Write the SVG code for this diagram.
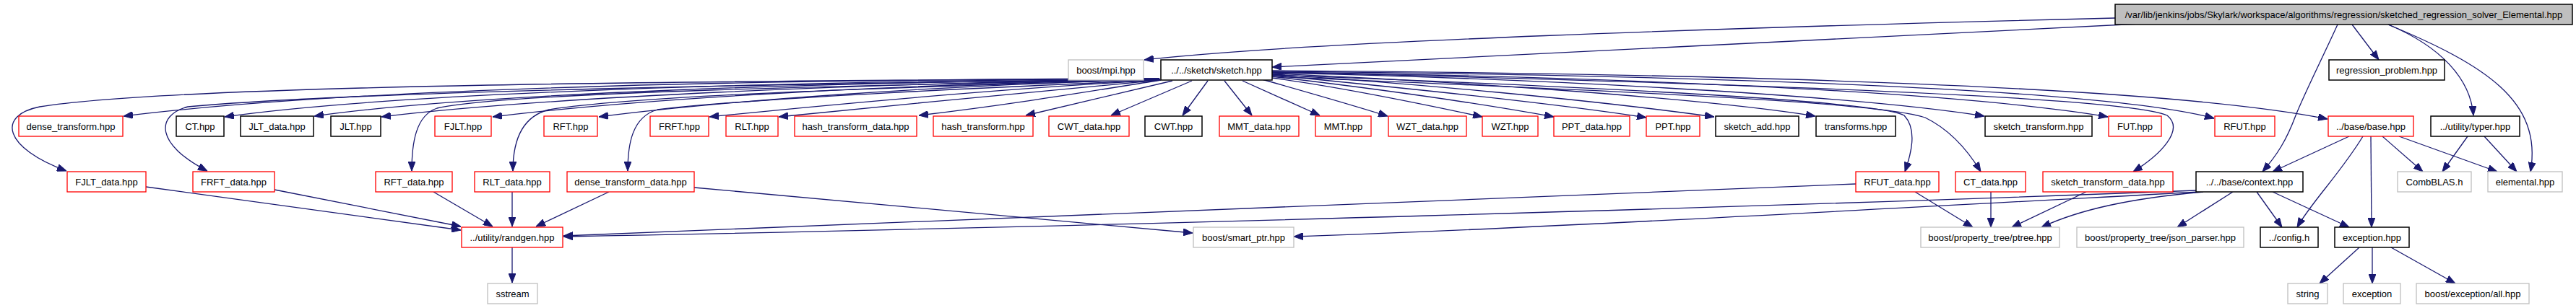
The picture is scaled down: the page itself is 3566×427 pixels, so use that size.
<svg xmlns="http://www.w3.org/2000/svg" width="3566" height="427" viewBox="0 0 3566 427">
<style>
.n rect{fill:#fff;stroke-width:1.3}
.k rect{stroke:#000;stroke-width:1.5}
.r rect{stroke:#f00}
.g rect{stroke:#bfbfbf}
.t rect{fill:#bfbfbf;stroke:#000;stroke-width:1.5}
text{font-family:"Liberation Sans",Arial,Helvetica,sans-serif;font-size:13px;text-anchor:middle;fill:#000}
#edges path{fill:none;stroke:#191970;stroke-width:1.3;marker-end:url(#a)}
</style>
<defs>
<marker id="a" viewBox="0 0 13 10" refX="13" refY="5" markerWidth="13" markerHeight="10" markerUnits="userSpaceOnUse" orient="auto"><path d="M0,0 L13,5 L0,10 z" fill="#191970" stroke="#191970" stroke-width="1"/></marker>
</defs>
<rect x="0" y="0" width="3566" height="427" fill="#fff"/>
<g id="edges">
<path d="M2928,25 C2400,38 1800,58 1584,83"/>
<path d="M2962,33 L1761,93"/>
<path d="M3256,34 L3293,83"/>
<path d="M3236,34 C3215,80 3190,130 3178,160 C3165,195 3152,215 3132,238"/>
<path d="M3306,34 C3380,65 3420,110 3424,160"/>
<path d="M3306,34 C3440,90 3520,140 3503,238"/>
<path d="M1605,109 C1100,110 500,120 171,161"/>
<path d="M1605,109 C1100,112 550,128 311,162"/>
<path d="M1605,110 C1150,113 650,130 435,161"/>
<path d="M1605,110 C1200,115 750,135 528,162"/>
<path d="M1605,110 C1250,117 900,135 682,162"/>
<path d="M1606,110 C1300,118 1000,140 829,162"/>
<path d="M1606,111 C1400,122 1150,145 982,162"/>
<path d="M1606,111 C1450,125 1250,145 1078,162"/>
<path d="M1607,111 C1500,128 1400,145 1272,160"/>
<path d="M1623,112 L1420,160"/>
<path d="M1650,112 L1538,160"/>
<path d="M1672,112 L1637,160"/>
<path d="M1695,112 L1733,160"/>
<path d="M1720,112 L1827,160"/>
<path d="M1747,110 C1800,125 1870,145 1921,161"/>
<path d="M1761,108 C1850,120 1950,140 2052,162"/>
<path d="M1761,106 C1880,120 2030,140 2151,162"/>
<path d="M1761,104 C1900,118 2130,140 2279,163"/>
<path d="M1761,103 C1950,115 2200,138 2373,162"/>
<path d="M1761,102 C2000,112 2350,135 2513,161"/>
<path d="M1761,101 C2100,108 2550,130 2747,161"/>
<path d="M1761,100 C2200,106 2700,125 2918,162"/>
<path d="M1761,99 C2300,104 2900,120 3065,164"/>
<path d="M1761,98 C2400,102 3000,120 3222,165"/>
<path d="M1761,104 C2200,120 2600,140 2636,160 C2655,180 2645,215 2637,238"/>
<path d="M1761,106 C2200,125 2600,140 2665,163 C2700,180 2725,210 2742,238"/>
<path d="M1761,100 C2400,115 2950,135 3000,160 C3025,180 2990,215 2953,238"/>
<path d="M1605,109 C1000,112 250,117 55,148 C-5,160 5,205 92,237"/>
<path d="M1605,110 C1100,116 500,126 260,148 C215,160 215,200 287,237"/>
<path d="M1606,110 C1200,118 700,128 605,150 C575,160 570,200 570,237"/>
<path d="M1606,110 C1300,120 900,130 760,152 C720,162 710,200 710,237"/>
<path d="M1606,111 C1400,120 1050,135 910,152 C875,162 869,200 869,237"/>
<path d="M202,259 L638,319"/>
<path d="M380,263 L638,314"/>
<path d="M600,266 L682,314"/>
<path d="M709,266 L709,314"/>
<path d="M843,266 L742,314"/>
<path d="M961,260 L1651,323"/>
<path d="M709,343 L709,392"/>
<path d="M2569,255 L780,327"/>
<path d="M3040,264 C2500,285 1500,315 780,328"/>
<path d="M3045,266 C2600,290 2100,318 1791,328"/>
<path d="M3050,266 C2950,275 2880,290 2826,315"/>
<path d="M3091,266 L3014,315"/>
<path d="M3124,266 L3159,315"/>
<path d="M3146,266 L3252,315"/>
<path d="M2651,266 L2731,315"/>
<path d="M2756,266 L2756,315"/>
<path d="M2888,266 L2785,315"/>
<path d="M3252,189 L3146,238"/>
<path d="M3271,189 C3240,240 3200,280 3180,315"/>
<path d="M3282,189 L3283,315"/>
<path d="M3298,189 L3354,238"/>
<path d="M3321,189 L3457,238"/>
<path d="M3416,189 L3381,238"/>
<path d="M3439,189 L3484,238"/>
<path d="M3266,343 L3211,393"/>
<path d="M3284,343 L3284,393"/>
<path d="M3310,343 L3399,393"/>
</g>
<g id="n_top" class="n t"><rect x="2928" y="6" width="633" height="28"/><text x="3244.5" y="24.5">/var/lib/jenkins/jobs/Skylark/workspace/algorithms/regression/sketched_regression_solver_Elemental.hpp</text></g>
<g id="n_mpi" class="n g"><rect x="1479" y="83" width="104" height="28"/><text x="1531" y="101.5">boost/mpi.hpp</text></g>
<g id="n_sketch" class="n k"><rect x="1607" y="83" width="154" height="28"/><text x="1684" y="101.5">../../sketch/sketch.hpp</text></g>
<g id="n_regression" class="n k"><rect x="3224" y="83" width="160" height="28"/><text x="3304" y="101.5">regression_problem.hpp</text></g>
<g id="n_dense_transform" class="n r"><rect x="26" y="161" width="144" height="28"/><text x="98" y="179.5">dense_transform.hpp</text></g>
<g id="n_CT" class="n k"><rect x="244" y="161" width="66" height="28"/><text x="277" y="179.5">CT.hpp</text></g>
<g id="n_JLT_data" class="n k"><rect x="333" y="161" width="101" height="28"/><text x="383.5" y="179.5">JLT_data.hpp</text></g>
<g id="n_JLT" class="n k"><rect x="458" y="161" width="69" height="28"/><text x="492.5" y="179.5">JLT.hpp</text></g>
<g id="n_FJLT" class="n r"><rect x="602" y="161" width="78" height="28"/><text x="641" y="179.5">FJLT.hpp</text></g>
<g id="n_RFT" class="n r"><rect x="753" y="161" width="74" height="28"/><text x="790" y="179.5">RFT.hpp</text></g>
<g id="n_FRFT" class="n r"><rect x="900" y="161" width="81" height="28"/><text x="940.5" y="179.5">FRFT.hpp</text></g>
<g id="n_RLT" class="n r"><rect x="1005" y="161" width="72" height="28"/><text x="1041" y="179.5">RLT.hpp</text></g>
<g id="n_hash_transform_data" class="n r"><rect x="1100" y="161" width="169" height="28"/><text x="1184.5" y="179.5">hash_transform_data.hpp</text></g>
<g id="n_hash_transform" class="n r"><rect x="1292" y="161" width="138" height="28"/><text x="1361" y="179.5">hash_transform.hpp</text></g>
<g id="n_CWT_data" class="n r"><rect x="1452" y="161" width="111" height="28"/><text x="1507.5" y="179.5">CWT_data.hpp</text></g>
<g id="n_CWT" class="n k"><rect x="1585" y="161" width="79" height="28"/><text x="1624.5" y="179.5">CWT.hpp</text></g>
<g id="n_MMT_data" class="n r"><rect x="1688" y="161" width="110" height="28"/><text x="1743" y="179.5">MMT_data.hpp</text></g>
<g id="n_MMT" class="n r"><rect x="1821" y="161" width="77" height="28"/><text x="1859.5" y="179.5">MMT.hpp</text></g>
<g id="n_WZT_data" class="n r"><rect x="1922" y="161" width="108" height="28"/><text x="1976" y="179.5">WZT_data.hpp</text></g>
<g id="n_WZT" class="n r"><rect x="2052" y="161" width="77" height="28"/><text x="2090.5" y="179.5">WZT.hpp</text></g>
<g id="n_PPT_data" class="n r"><rect x="2151" y="161" width="105" height="28"/><text x="2203.5" y="179.5">PPT_data.hpp</text></g>
<g id="n_PPT" class="n r"><rect x="2279" y="161" width="74" height="28"/><text x="2316" y="179.5">PPT.hpp</text></g>
<g id="n_sketch_add" class="n k"><rect x="2375" y="161" width="115" height="28"/><text x="2432.5" y="179.5">sketch_add.hpp</text></g>
<g id="n_transforms" class="n k"><rect x="2514" y="161" width="110" height="28"/><text x="2569" y="179.5">transforms.hpp</text></g>
<g id="n_sketch_transform" class="n k"><rect x="2748" y="161" width="148" height="28"/><text x="2822" y="179.5">sketch_transform.hpp</text></g>
<g id="n_FUT" class="n r"><rect x="2919" y="161" width="73" height="28"/><text x="2955.5" y="179.5">FUT.hpp</text></g>
<g id="n_RFUT" class="n r"><rect x="3066" y="161" width="83" height="28"/><text x="3107.5" y="179.5">RFUT.hpp</text></g>
<g id="n_base" class="n r"><rect x="3223" y="161" width="118" height="28"/><text x="3282" y="179.5">../base/base.hpp</text></g>
<g id="n_typer" class="n k"><rect x="3365" y="161" width="123" height="28"/><text x="3426.5" y="179.5">../utility/typer.hpp</text></g>
<g id="n_FJLT_data" class="n r"><rect x="93" y="238" width="109" height="28"/><text x="147.5" y="256.5">FJLT_data.hpp</text></g>
<g id="n_FRFT_data" class="n r"><rect x="267" y="238" width="113" height="28"/><text x="323.5" y="256.5">FRFT_data.hpp</text></g>
<g id="n_RFT_data" class="n r"><rect x="520" y="238" width="106" height="28"/><text x="573" y="256.5">RFT_data.hpp</text></g>
<g id="n_RLT_data" class="n r"><rect x="657" y="238" width="104" height="28"/><text x="709" y="256.5">RLT_data.hpp</text></g>
<g id="n_dense_transform_data" class="n r"><rect x="785" y="238" width="176" height="28"/><text x="873" y="256.5">dense_transform_data.hpp</text></g>
<g id="n_RFUT_data" class="n r"><rect x="2569" y="238" width="115" height="28"/><text x="2626.5" y="256.5">RFUT_data.hpp</text></g>
<g id="n_CT_data" class="n r"><rect x="2707" y="238" width="97" height="28"/><text x="2755.5" y="256.5">CT_data.hpp</text></g>
<g id="n_sketch_transform_data" class="n r"><rect x="2828" y="238" width="180" height="28"/><text x="2918" y="256.5">sketch_transform_data.hpp</text></g>
<g id="n_context" class="n k"><rect x="3040" y="238" width="148" height="28"/><text x="3114" y="256.5">../../base/context.hpp</text></g>
<g id="n_CombBLAS" class="n g"><rect x="3319" y="238" width="102" height="28"/><text x="3370" y="256.5">CombBLAS.h</text></g>
<g id="n_elemental" class="n g"><rect x="3444" y="238" width="103" height="28"/><text x="3495.5" y="256.5">elemental.hpp</text></g>
<g id="n_randgen" class="n r"><rect x="639" y="315" width="140" height="28"/><text x="709" y="333.5">../utility/randgen.hpp</text></g>
<g id="n_smart_ptr" class="n g"><rect x="1652" y="315" width="139" height="28"/><text x="1721.5" y="333.5">boost/smart_ptr.hpp</text></g>
<g id="n_ptree" class="n g"><rect x="2659" y="315" width="192" height="28"/><text x="2755" y="333.5">boost/property_tree/ptree.hpp</text></g>
<g id="n_json" class="n g"><rect x="2875" y="315" width="231" height="28"/><text x="2990.5" y="333.5">boost/property_tree/json_parser.hpp</text></g>
<g id="n_config" class="n k"><rect x="3129" y="315" width="80" height="28"/><text x="3169" y="333.5">../config.h</text></g>
<g id="n_exception_hpp" class="n k"><rect x="3232" y="315" width="103" height="28"/><text x="3283.5" y="333.5">exception.hpp</text></g>
<g id="n_sstream" class="n g"><rect x="675" y="393" width="69" height="28"/><text x="709.5" y="411.5">sstream</text></g>
<g id="n_string" class="n g"><rect x="3167" y="393" width="55" height="28"/><text x="3194.5" y="411.5">string</text></g>
<g id="n_exception" class="n g"><rect x="3244" y="393" width="79" height="28"/><text x="3283.5" y="411.5">exception</text></g>
<g id="n_all" class="n g"><rect x="3345" y="393" width="156" height="28"/><text x="3423" y="411.5">boost/exception/all.hpp</text></g>
</svg>
